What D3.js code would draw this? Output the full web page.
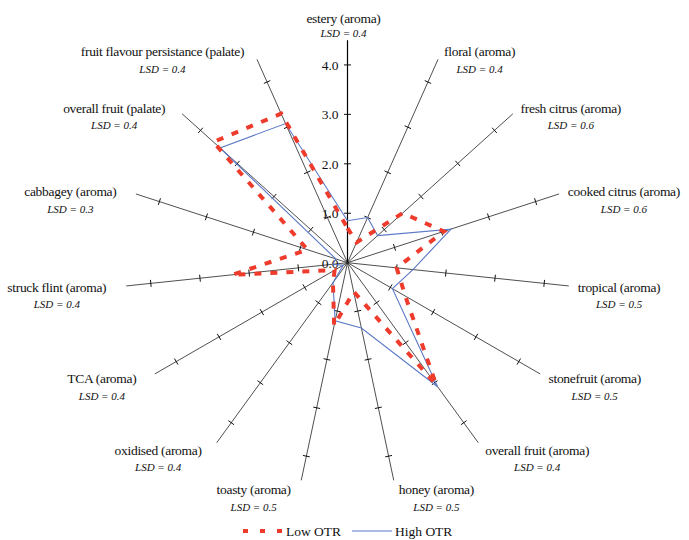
<!DOCTYPE html>
<html>
<head>
<meta charset="utf-8">
<script src="https://cdn.jsdelivr.net/npm/d3@7"></script>
<style>
  body { margin: 0; background: #fff; }
</style>
</head>
<body>
<div id="chart"></div>
<script>
// attributes, clockwise from the top
const attributes = ["estery (aroma)", "floral (aroma)", "fresh citrus (aroma)", "cooked citrus (aroma)",
  "tropical (aroma)", "stonefruit (aroma)", "overall fruit (aroma)", "honey (aroma)", "toasty (aroma)",
  "oxidised (aroma)", "TCA (aroma)", "struck flint (aroma)", "cabbagey (aroma)",
  "overall fruit (palate)", "fruit flavour persistance (palate)"];
const lsd = [0.4, 0.4, 0.6, 0.6, 0.5, 0.5, 0.4, 0.5, 0.5, 0.4, 0.4, 0.4, 0.3, 0.4, 0.4];
const lowOTR  = [0.7, 0.45, 1.5, 2.05, 1.0, 1.35, 3.05, 0.6, 1.3, 0.5, 0.3, 2.35, 0.85, 3.65, 3.3];
const highOTR = [0.85, 1.0, 0.82, 2.2, 1.33, 1.05, 3.1, 1.35, 1.2, 0.5, 0.1, 0.3, 0.25, 3.47, 3.08];
const ticks = [0, 1, 2, 3, 4];

const W = 689, H = 540;
const cx = 347.5, cy = 262.7;
const maxVal = 4.5;
const red = "#ee3b2b", blue = "#5a78c6";
const serif = "Liberation Serif, DejaVu Serif Condensed, DejaVu Serif";

const svg = d3.select("#chart").append("svg").attr("width", W).attr("height", H)
  .style("font-family", serif);
const g = svg.append("g").attr("transform", `translate(${cx},${cy})`);

const r = d3.scaleLinear().domain([0, maxVal]).range([0, 222.5]);
const step = 2 * Math.PI / attributes.length;
const ang = i => i * step;
const pt = (i, v) => [Math.sin(ang(i)) * r(v), -Math.cos(ang(i)) * r(v)];

// spokes
attributes.forEach((a, i) => {
  const [x, y] = pt(i, maxVal);
  g.append("line").attr("x1", 0).attr("y1", 0).attr("x2", x).attr("y2", y)
    .attr("stroke", i === 0 ? "#000" : "#222").attr("stroke-width", i === 0 ? 1.2 : 0.8);
  // cross ticks
  ticks.filter(t => t > 0).forEach(t => {
    const [tx, ty] = pt(i, t);
    const px = Math.cos(ang(i)) * 3.5, py = Math.sin(ang(i)) * 3.5;
    g.append("line").attr("x1", tx - px).attr("y1", ty - py).attr("x2", tx + px).attr("y2", ty + py)
      .attr("stroke", "#111").attr("stroke-width", 1);
  });
});

// value labels on the top spoke
g.selectAll(".tick-label").data(ticks).join("text")
  .attr("class", "tick-label")
  .attr("x", -9).attr("y", d => -r(d) + 5)
  .attr("text-anchor", "end").attr("font-size", 13.5).attr("fill", "#111")
  .text(d => d.toFixed(1));

// series
const radial = d3.lineRadial()
  .angle((d, i) => ang(i))
  .radius(d => r(d))
  .curve(d3.curveLinearClosed);

g.append("path").datum(highOTR).attr("d", radial)
  .attr("fill", "none").attr("stroke", blue).attr("stroke-width", 1.1);
g.append("path").datum(lowOTR).attr("d", radial)
  .attr("fill", "none").attr("stroke", red).attr("stroke-width", 4)
  .attr("stroke-dasharray", "7,9");

// attribute labels + LSD notes
attributes.forEach((a, i) => {
  const s = Math.sin(ang(i)), c = Math.cos(ang(i));
  const [ex, ey] = pt(i, maxVal);
  const lab = svg.append("text").attr("font-size", 13.5).attr("fill", "#111")
    .attr("letter-spacing", -0.3).text(a);
  const w = lab.node().getComputedTextLength();
  let lx, by;
  if (Math.abs(s) < 0.1) {
    lx = cx + ex - 4 - w / 2; by = cy + ey - 17;
  } else if (s > 0) {
    lx = cx + ex + 4 + 5 * s; by = cy + ey + 5 - 9 * c;
  } else {
    lx = cx + ex - (8 + 12 * Math.abs(s)) - w; by = cy + ey + 5 - 9 * c;
  }
  lab.attr("x", lx).attr("y", by);
  svg.append("text").attr("x", lx + w / 2).attr("y", by + (Math.abs(s) < 0.1 ? 14 : 16.5))
    .attr("text-anchor", "middle").attr("font-size", 11).attr("font-style", "italic")
    .attr("fill", "#111").text("LSD = " + lsd[i]);
});

// legend
const leg = svg.append("g").attr("transform", "translate(243,531)");
leg.append("line").attr("x1", 0).attr("x2", 40).attr("y1", 0).attr("y2", 0)
  .attr("stroke", red).attr("stroke-width", 4).attr("stroke-dasharray", "5,12");
leg.append("text").attr("x", 43).attr("y", 4.5).attr("font-size", 13.5).attr("fill", "#111").text("Low OTR");
leg.append("line").attr("x1", 109).attr("x2", 149).attr("y1", 0).attr("y2", 0)
  .attr("stroke", blue).attr("stroke-width", 1.1);
leg.append("text").attr("x", 152).attr("y", 4.5).attr("font-size", 13.5).attr("fill", "#111").text("High OTR");
</script>
</body>
</html>
